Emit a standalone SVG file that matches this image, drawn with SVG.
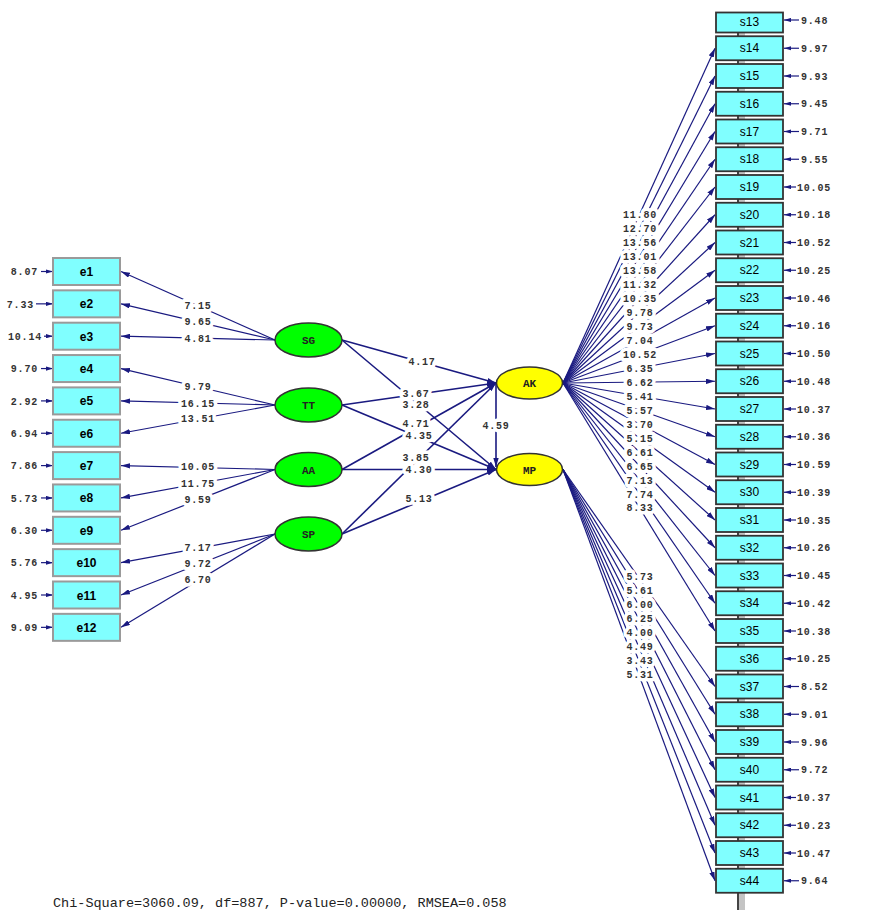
<svg xmlns="http://www.w3.org/2000/svg" width="871" height="910" viewBox="0 0 871 910">
<style>
.c{stroke:#1a1a80;stroke-width:1.2;fill:none}
.cs{stroke:#1a1a80;stroke-width:1.6;fill:none}
.n{font-family:"Liberation Mono",monospace;font-size:10px;font-weight:bold;fill:#333;letter-spacing:0.8px}
.m{text-anchor:middle}
.e{text-anchor:end}
.h{stroke:#fff;stroke-width:7;stroke-linejoin:round;paint-order:stroke}
.lb{fill:#80ffff;stroke:#9a9a9a;stroke-width:2}
.rb{fill:#80ffff;stroke:#333;stroke-width:1.8}
.g{fill:#00ff00;stroke:#333;stroke-width:1.5}
.y{fill:#ffff00;stroke:#333;stroke-width:1.5}
.lt{font-family:"Liberation Mono",monospace;font-size:11px;font-weight:bold;fill:#222;text-anchor:middle}
.bt{font-family:"Liberation Sans",Arial,sans-serif;font-size:12px;fill:#000;text-anchor:middle}
.bb{font-weight:bold}
.foot{font-family:"Liberation Mono",monospace;font-size:13.5px;fill:#222}
</style>
<defs>
<marker id="a" viewBox="0 0 10 6" refX="10" refY="3" markerWidth="9" markerHeight="5.4" markerUnits="userSpaceOnUse" orient="auto"><path d="M0,0L10,3L0,6z" fill="#1a1a80"/></marker>
<marker id="s" viewBox="0 0 10 6" refX="10" refY="3" markerWidth="7" markerHeight="4.5" markerUnits="userSpaceOnUse" orient="auto"><path d="M0,0L10,3L0,6z" fill="#1a1a80"/></marker>
</defs>
<rect width="871" height="910" fill="#fff"/>
<g id="spine">
<rect x="737" y="22" width="2" height="888" fill="#444"/>
<rect x="739" y="22" width="6" height="888" fill="#c4c4c4"/>
</g>
<g id="connectors">
<line class="c" x1="275" y1="340" x2="121" y2="271.5" marker-end="url(#a)"/>
<line class="c" x1="275" y1="340" x2="121" y2="303.85" marker-end="url(#a)"/>
<line class="c" x1="275" y1="340" x2="121" y2="336.2" marker-end="url(#a)"/>
<line class="c" x1="275" y1="405" x2="121" y2="368.55" marker-end="url(#a)"/>
<line class="c" x1="275" y1="405" x2="121" y2="400.9" marker-end="url(#a)"/>
<line class="c" x1="275" y1="405" x2="121" y2="433.25" marker-end="url(#a)"/>
<line class="c" x1="275" y1="469.5" x2="121" y2="465.6" marker-end="url(#a)"/>
<line class="c" x1="275" y1="469.5" x2="121" y2="497.95" marker-end="url(#a)"/>
<line class="c" x1="275" y1="469.5" x2="121" y2="530.3" marker-end="url(#a)"/>
<line class="c" x1="275" y1="534" x2="121" y2="562.65" marker-end="url(#a)"/>
<line class="c" x1="275" y1="534" x2="121" y2="595" marker-end="url(#a)"/>
<line class="c" x1="275" y1="534" x2="121" y2="627.35" marker-end="url(#a)"/>
<line class="c" x1="41" y1="271.5" x2="53" y2="271.5" marker-end="url(#s)"/>
<line class="c" x1="36" y1="303.85" x2="53" y2="303.85" marker-end="url(#s)"/>
<line class="c" x1="44" y1="336.2" x2="53" y2="336.2" marker-end="url(#s)"/>
<line class="c" x1="41" y1="368.55" x2="53" y2="368.55" marker-end="url(#s)"/>
<line class="c" x1="41" y1="400.9" x2="53" y2="400.9" marker-end="url(#s)"/>
<line class="c" x1="41" y1="433.25" x2="53" y2="433.25" marker-end="url(#s)"/>
<line class="c" x1="41" y1="465.6" x2="53" y2="465.6" marker-end="url(#s)"/>
<line class="c" x1="41" y1="497.95" x2="53" y2="497.95" marker-end="url(#s)"/>
<line class="c" x1="41" y1="530.3" x2="53" y2="530.3" marker-end="url(#s)"/>
<line class="c" x1="41" y1="562.65" x2="53" y2="562.65" marker-end="url(#s)"/>
<line class="c" x1="41" y1="595" x2="53" y2="595" marker-end="url(#s)"/>
<line class="c" x1="41" y1="627.35" x2="53" y2="627.35" marker-end="url(#s)"/>
<line class="cs" x1="342" y1="340" x2="496" y2="383" marker-end="url(#a)"/>
<line class="cs" x1="342" y1="340" x2="496" y2="469.5" marker-end="url(#a)"/>
<line class="cs" x1="342" y1="405" x2="496" y2="383" marker-end="url(#a)"/>
<line class="cs" x1="342" y1="405" x2="496" y2="469.5" marker-end="url(#a)"/>
<line class="cs" x1="342" y1="469.5" x2="496" y2="383" marker-end="url(#a)"/>
<line class="cs" x1="342" y1="469.5" x2="496" y2="469.5" marker-end="url(#a)"/>
<line class="cs" x1="342" y1="534" x2="496" y2="383" marker-end="url(#a)"/>
<line class="cs" x1="342" y1="534" x2="496" y2="469.5" marker-end="url(#a)"/>
<line class="cs" x1="496" y1="384" x2="496" y2="467" marker-end="url(#a)"/>
<line class="c" x1="563" y1="383" x2="715" y2="48.25" marker-end="url(#a)"/>
<line class="c" x1="563" y1="383" x2="715" y2="76" marker-end="url(#a)"/>
<line class="c" x1="563" y1="383" x2="715" y2="103.75" marker-end="url(#a)"/>
<line class="c" x1="563" y1="383" x2="715" y2="131.5" marker-end="url(#a)"/>
<line class="c" x1="563" y1="383" x2="715" y2="159.25" marker-end="url(#a)"/>
<line class="c" x1="563" y1="383" x2="715" y2="187" marker-end="url(#a)"/>
<line class="c" x1="563" y1="383" x2="715" y2="214.75" marker-end="url(#a)"/>
<line class="c" x1="563" y1="383" x2="715" y2="242.5" marker-end="url(#a)"/>
<line class="c" x1="563" y1="383" x2="715" y2="270.25" marker-end="url(#a)"/>
<line class="c" x1="563" y1="383" x2="715" y2="298" marker-end="url(#a)"/>
<line class="c" x1="563" y1="383" x2="715" y2="325.75" marker-end="url(#a)"/>
<line class="c" x1="563" y1="383" x2="715" y2="353.5" marker-end="url(#a)"/>
<line class="c" x1="563" y1="383" x2="715" y2="381.25" marker-end="url(#a)"/>
<line class="c" x1="563" y1="383" x2="715" y2="409" marker-end="url(#a)"/>
<line class="c" x1="563" y1="383" x2="715" y2="436.75" marker-end="url(#a)"/>
<line class="c" x1="563" y1="383" x2="715" y2="464.5" marker-end="url(#a)"/>
<line class="c" x1="563" y1="383" x2="715" y2="492.25" marker-end="url(#a)"/>
<line class="c" x1="563" y1="383" x2="715" y2="520" marker-end="url(#a)"/>
<line class="c" x1="563" y1="383" x2="715" y2="547.75" marker-end="url(#a)"/>
<line class="c" x1="563" y1="383" x2="715" y2="575.5" marker-end="url(#a)"/>
<line class="c" x1="563" y1="383" x2="715" y2="603.25" marker-end="url(#a)"/>
<line class="c" x1="563" y1="383" x2="715" y2="631" marker-end="url(#a)"/>
<line class="c" x1="563" y1="469.5" x2="715" y2="686.5" marker-end="url(#a)"/>
<line class="c" x1="563" y1="469.5" x2="715" y2="714.25" marker-end="url(#a)"/>
<line class="c" x1="563" y1="469.5" x2="715" y2="742" marker-end="url(#a)"/>
<line class="c" x1="563" y1="469.5" x2="715" y2="769.75" marker-end="url(#a)"/>
<line class="c" x1="563" y1="469.5" x2="715" y2="797.5" marker-end="url(#a)"/>
<line class="c" x1="563" y1="469.5" x2="715" y2="825.25" marker-end="url(#a)"/>
<line class="c" x1="563" y1="469.5" x2="715" y2="853" marker-end="url(#a)"/>
<line class="c" x1="563" y1="469.5" x2="715" y2="880.75" marker-end="url(#a)"/>
<line class="c" x1="799" y1="20" x2="784" y2="20" marker-end="url(#s)"/>
<line class="c" x1="799" y1="48.25" x2="784" y2="48.25" marker-end="url(#s)"/>
<line class="c" x1="799" y1="76" x2="784" y2="76" marker-end="url(#s)"/>
<line class="c" x1="799" y1="103.75" x2="784" y2="103.75" marker-end="url(#s)"/>
<line class="c" x1="799" y1="131.5" x2="784" y2="131.5" marker-end="url(#s)"/>
<line class="c" x1="799" y1="159.25" x2="784" y2="159.25" marker-end="url(#s)"/>
<line class="c" x1="796" y1="187" x2="784" y2="187" marker-end="url(#s)"/>
<line class="c" x1="796" y1="214.75" x2="784" y2="214.75" marker-end="url(#s)"/>
<line class="c" x1="796" y1="242.5" x2="784" y2="242.5" marker-end="url(#s)"/>
<line class="c" x1="796" y1="270.25" x2="784" y2="270.25" marker-end="url(#s)"/>
<line class="c" x1="796" y1="298" x2="784" y2="298" marker-end="url(#s)"/>
<line class="c" x1="796" y1="325.75" x2="784" y2="325.75" marker-end="url(#s)"/>
<line class="c" x1="796" y1="353.5" x2="784" y2="353.5" marker-end="url(#s)"/>
<line class="c" x1="796" y1="381.25" x2="784" y2="381.25" marker-end="url(#s)"/>
<line class="c" x1="796" y1="409" x2="784" y2="409" marker-end="url(#s)"/>
<line class="c" x1="796" y1="436.75" x2="784" y2="436.75" marker-end="url(#s)"/>
<line class="c" x1="796" y1="464.5" x2="784" y2="464.5" marker-end="url(#s)"/>
<line class="c" x1="796" y1="492.25" x2="784" y2="492.25" marker-end="url(#s)"/>
<line class="c" x1="796" y1="520" x2="784" y2="520" marker-end="url(#s)"/>
<line class="c" x1="796" y1="547.75" x2="784" y2="547.75" marker-end="url(#s)"/>
<line class="c" x1="796" y1="575.5" x2="784" y2="575.5" marker-end="url(#s)"/>
<line class="c" x1="796" y1="603.25" x2="784" y2="603.25" marker-end="url(#s)"/>
<line class="c" x1="796" y1="631" x2="784" y2="631" marker-end="url(#s)"/>
<line class="c" x1="796" y1="658.75" x2="784" y2="658.75" marker-end="url(#s)"/>
<line class="c" x1="799" y1="686.5" x2="784" y2="686.5" marker-end="url(#s)"/>
<line class="c" x1="799" y1="714.25" x2="784" y2="714.25" marker-end="url(#s)"/>
<line class="c" x1="799" y1="742" x2="784" y2="742" marker-end="url(#s)"/>
<line class="c" x1="799" y1="769.75" x2="784" y2="769.75" marker-end="url(#s)"/>
<line class="c" x1="796" y1="797.5" x2="784" y2="797.5" marker-end="url(#s)"/>
<line class="c" x1="796" y1="825.25" x2="784" y2="825.25" marker-end="url(#s)"/>
<line class="c" x1="796" y1="853" x2="784" y2="853" marker-end="url(#s)"/>
<line class="c" x1="799" y1="880.75" x2="784" y2="880.75" marker-end="url(#s)"/>
<text class="n m h" x="198" y="309">7.15</text>
<text class="n m h" x="198" y="325">9.65</text>
<text class="n m h" x="198" y="342">4.81</text>
<text class="n m h" x="198" y="390">9.79</text>
<text class="n m h" x="198" y="406.5">16.15</text>
<text class="n m h" x="198" y="422">13.51</text>
<text class="n m h" x="198" y="470">10.05</text>
<text class="n m h" x="198" y="487">11.75</text>
<text class="n m h" x="198" y="503">9.59</text>
<text class="n m h" x="198" y="551">7.17</text>
<text class="n m h" x="198" y="567">9.72</text>
<text class="n m h" x="198" y="583">6.70</text>
<text class="n m h" x="422" y="364.5">4.17</text>
<text class="n m h" x="416" y="396.5">3.67</text>
<text class="n m h" x="416" y="407.5">3.28</text>
<text class="n m h" x="416" y="426.5">4.71</text>
<text class="n m h" x="419" y="438.5">4.35</text>
<text class="n m h" x="416" y="460.5">3.85</text>
<text class="n m h" x="419" y="472.5">4.30</text>
<text class="n m h" x="419" y="501.5">5.13</text>
<text class="n m h" x="496" y="428.5">4.59</text>
<text class="n m h" x="640" y="218">11.80</text>
<text class="n m h" x="640" y="232">12.70</text>
<text class="n m h" x="640" y="246">13.56</text>
<text class="n m h" x="640" y="260">13.01</text>
<text class="n m h" x="640" y="274">13.58</text>
<text class="n m h" x="640" y="288">11.32</text>
<text class="n m h" x="640" y="302">10.35</text>
<text class="n m h" x="640" y="316">9.78</text>
<text class="n m h" x="640" y="330">9.73</text>
<text class="n m h" x="640" y="344">7.04</text>
<text class="n m h" x="640" y="357.5">10.52</text>
<text class="n m h" x="640" y="371.5">6.35</text>
<text class="n m h" x="640" y="385.5">6.62</text>
<text class="n m h" x="640" y="399.5">5.41</text>
<text class="n m h" x="640" y="413.5">5.57</text>
<text class="n m h" x="640" y="427.5">3.70</text>
<text class="n m h" x="640" y="441.5">5.15</text>
<text class="n m h" x="640" y="455.5">6.61</text>
<text class="n m h" x="640" y="469.5">6.65</text>
<text class="n m h" x="640" y="483.5">7.13</text>
<text class="n m h" x="640" y="497.5">7.74</text>
<text class="n m h" x="640" y="511">8.33</text>
<text class="n m h" x="640" y="580">5.73</text>
<text class="n m h" x="640" y="594">5.61</text>
<text class="n m h" x="640" y="607.5">6.00</text>
<text class="n m h" x="640" y="621.5">6.25</text>
<text class="n m h" x="640" y="635.5">4.00</text>
<text class="n m h" x="640" y="649.5">4.49</text>
<text class="n m h" x="640" y="663.5">3.43</text>
<text class="n m h" x="640" y="677.5">5.31</text>
<text class="n e" x="38" y="275">8.07</text>
<text class="n e" x="34" y="307.5">7.33</text>
<text class="n e" x="42" y="339.5">10.14</text>
<text class="n e" x="38" y="372">9.70</text>
<text class="n e" x="38" y="404.5">2.92</text>
<text class="n e" x="38" y="437">6.94</text>
<text class="n e" x="38" y="469">7.86</text>
<text class="n e" x="38" y="501.5">5.73</text>
<text class="n e" x="38" y="534">6.30</text>
<text class="n e" x="38" y="566">5.76</text>
<text class="n e" x="38" y="598.5">4.95</text>
<text class="n e" x="38" y="631">9.09</text>
<text class="n" x="801" y="23.5">9.48</text>
<text class="n" x="801" y="51.75">9.97</text>
<text class="n" x="801" y="79.5">9.93</text>
<text class="n" x="801" y="107.25">9.45</text>
<text class="n" x="801" y="135">9.71</text>
<text class="n" x="801" y="162.75">9.55</text>
<text class="n" x="797" y="190.5">10.05</text>
<text class="n" x="797" y="218.25">10.18</text>
<text class="n" x="797" y="246">10.52</text>
<text class="n" x="797" y="273.75">10.25</text>
<text class="n" x="797" y="301.5">10.46</text>
<text class="n" x="797" y="329.25">10.16</text>
<text class="n" x="797" y="357">10.50</text>
<text class="n" x="797" y="384.75">10.48</text>
<text class="n" x="797" y="412.5">10.37</text>
<text class="n" x="797" y="440.25">10.36</text>
<text class="n" x="797" y="468">10.59</text>
<text class="n" x="797" y="495.75">10.39</text>
<text class="n" x="797" y="523.5">10.35</text>
<text class="n" x="797" y="551.25">10.26</text>
<text class="n" x="797" y="579">10.45</text>
<text class="n" x="797" y="606.75">10.42</text>
<text class="n" x="797" y="634.5">10.38</text>
<text class="n" x="797" y="662.25">10.25</text>
<text class="n" x="801" y="690">8.52</text>
<text class="n" x="801" y="717.75">9.01</text>
<text class="n" x="801" y="745.5">9.96</text>
<text class="n" x="801" y="773.25">9.72</text>
<text class="n" x="797" y="801">10.37</text>
<text class="n" x="797" y="828.75">10.23</text>
<text class="n" x="797" y="856.5">10.47</text>
<text class="n" x="801" y="884.25">9.64</text>
</g>
<g id="e1"><rect class="lb" x="53" y="258" width="67" height="27"/><text class="bt bb" x="86.5" y="276">e1</text></g>
<g id="e2"><rect class="lb" x="53" y="290.35" width="67" height="27"/><text class="bt bb" x="86.5" y="308.35">e2</text></g>
<g id="e3"><rect class="lb" x="53" y="322.7" width="67" height="27"/><text class="bt bb" x="86.5" y="340.7">e3</text></g>
<g id="e4"><rect class="lb" x="53" y="355.05" width="67" height="27"/><text class="bt bb" x="86.5" y="373.05">e4</text></g>
<g id="e5"><rect class="lb" x="53" y="387.4" width="67" height="27"/><text class="bt bb" x="86.5" y="405.4">e5</text></g>
<g id="e6"><rect class="lb" x="53" y="419.75" width="67" height="27"/><text class="bt bb" x="86.5" y="437.75">e6</text></g>
<g id="e7"><rect class="lb" x="53" y="452.1" width="67" height="27"/><text class="bt bb" x="86.5" y="470.1">e7</text></g>
<g id="e8"><rect class="lb" x="53" y="484.45" width="67" height="27"/><text class="bt bb" x="86.5" y="502.45">e8</text></g>
<g id="e9"><rect class="lb" x="53" y="516.8" width="67" height="27"/><text class="bt bb" x="86.5" y="534.8">e9</text></g>
<g id="e10"><rect class="lb" x="53" y="549.15" width="67" height="27"/><text class="bt bb" x="86.5" y="567.15">e10</text></g>
<g id="e11"><rect class="lb" x="53" y="581.5" width="67" height="27"/><text class="bt bb" x="86.5" y="599.5">e11</text></g>
<g id="e12"><rect class="lb" x="53" y="613.85" width="67" height="27"/><text class="bt bb" x="86.5" y="631.85">e12</text></g>
<g id="SG"><ellipse class="g" cx="308.5" cy="340" rx="33.5" ry="17"/><text class="lt" x="308.5" y="344">SG</text></g>
<g id="TT"><ellipse class="g" cx="308.5" cy="405" rx="33.5" ry="17"/><text class="lt" x="308.5" y="409">TT</text></g>
<g id="AA"><ellipse class="g" cx="308.5" cy="469.5" rx="33.5" ry="17"/><text class="lt" x="308.5" y="473.5">AA</text></g>
<g id="SP"><ellipse class="g" cx="308.5" cy="534" rx="33.5" ry="17"/><text class="lt" x="308.5" y="538">SP</text></g>
<g id="AK"><ellipse class="y" cx="529.5" cy="383" rx="33" ry="16"/><text class="lt" x="529.5" y="387">AK</text></g>
<g id="MP"><ellipse class="y" cx="529.5" cy="469.5" rx="33" ry="16"/><text class="lt" x="529.5" y="473.5">MP</text></g>
<g id="s13"><rect class="rb" x="716" y="12.5" width="67" height="20"/><text class="bt" x="749.5" y="26">s13</text></g>
<g id="s14"><rect class="rb" x="716" y="36.25" width="67" height="24"/><text class="bt" x="749.5" y="52.25">s14</text></g>
<g id="s15"><rect class="rb" x="716" y="64" width="67" height="24"/><text class="bt" x="749.5" y="80">s15</text></g>
<g id="s16"><rect class="rb" x="716" y="91.75" width="67" height="24"/><text class="bt" x="749.5" y="107.75">s16</text></g>
<g id="s17"><rect class="rb" x="716" y="119.5" width="67" height="24"/><text class="bt" x="749.5" y="135.5">s17</text></g>
<g id="s18"><rect class="rb" x="716" y="147.25" width="67" height="24"/><text class="bt" x="749.5" y="163.25">s18</text></g>
<g id="s19"><rect class="rb" x="716" y="175" width="67" height="24"/><text class="bt" x="749.5" y="191">s19</text></g>
<g id="s20"><rect class="rb" x="716" y="202.75" width="67" height="24"/><text class="bt" x="749.5" y="218.75">s20</text></g>
<g id="s21"><rect class="rb" x="716" y="230.5" width="67" height="24"/><text class="bt" x="749.5" y="246.5">s21</text></g>
<g id="s22"><rect class="rb" x="716" y="258.25" width="67" height="24"/><text class="bt" x="749.5" y="274.25">s22</text></g>
<g id="s23"><rect class="rb" x="716" y="286" width="67" height="24"/><text class="bt" x="749.5" y="302">s23</text></g>
<g id="s24"><rect class="rb" x="716" y="313.75" width="67" height="24"/><text class="bt" x="749.5" y="329.75">s24</text></g>
<g id="s25"><rect class="rb" x="716" y="341.5" width="67" height="24"/><text class="bt" x="749.5" y="357.5">s25</text></g>
<g id="s26"><rect class="rb" x="716" y="369.25" width="67" height="24"/><text class="bt" x="749.5" y="385.25">s26</text></g>
<g id="s27"><rect class="rb" x="716" y="397" width="67" height="24"/><text class="bt" x="749.5" y="413">s27</text></g>
<g id="s28"><rect class="rb" x="716" y="424.75" width="67" height="24"/><text class="bt" x="749.5" y="440.75">s28</text></g>
<g id="s29"><rect class="rb" x="716" y="452.5" width="67" height="24"/><text class="bt" x="749.5" y="468.5">s29</text></g>
<g id="s30"><rect class="rb" x="716" y="480.25" width="67" height="24"/><text class="bt" x="749.5" y="496.25">s30</text></g>
<g id="s31"><rect class="rb" x="716" y="508" width="67" height="24"/><text class="bt" x="749.5" y="524">s31</text></g>
<g id="s32"><rect class="rb" x="716" y="535.75" width="67" height="24"/><text class="bt" x="749.5" y="551.75">s32</text></g>
<g id="s33"><rect class="rb" x="716" y="563.5" width="67" height="24"/><text class="bt" x="749.5" y="579.5">s33</text></g>
<g id="s34"><rect class="rb" x="716" y="591.25" width="67" height="24"/><text class="bt" x="749.5" y="607.25">s34</text></g>
<g id="s35"><rect class="rb" x="716" y="619" width="67" height="24"/><text class="bt" x="749.5" y="635">s35</text></g>
<g id="s36"><rect class="rb" x="716" y="646.75" width="67" height="24"/><text class="bt" x="749.5" y="662.75">s36</text></g>
<g id="s37"><rect class="rb" x="716" y="674.5" width="67" height="24"/><text class="bt" x="749.5" y="690.5">s37</text></g>
<g id="s38"><rect class="rb" x="716" y="702.25" width="67" height="24"/><text class="bt" x="749.5" y="718.25">s38</text></g>
<g id="s39"><rect class="rb" x="716" y="730" width="67" height="24"/><text class="bt" x="749.5" y="746">s39</text></g>
<g id="s40"><rect class="rb" x="716" y="757.75" width="67" height="24"/><text class="bt" x="749.5" y="773.75">s40</text></g>
<g id="s41"><rect class="rb" x="716" y="785.5" width="67" height="24"/><text class="bt" x="749.5" y="801.5">s41</text></g>
<g id="s42"><rect class="rb" x="716" y="813.25" width="67" height="24"/><text class="bt" x="749.5" y="829.25">s42</text></g>
<g id="s43"><rect class="rb" x="716" y="841" width="67" height="24"/><text class="bt" x="749.5" y="857">s43</text></g>
<g id="s44"><rect class="rb" x="716" y="868.75" width="67" height="24"/><text class="bt" x="749.5" y="884.75">s44</text></g>
<text class="foot" x="53" y="907">Chi-Square=3060.09, df=887, P-value=0.00000, RMSEA=0.058</text>
</svg>
